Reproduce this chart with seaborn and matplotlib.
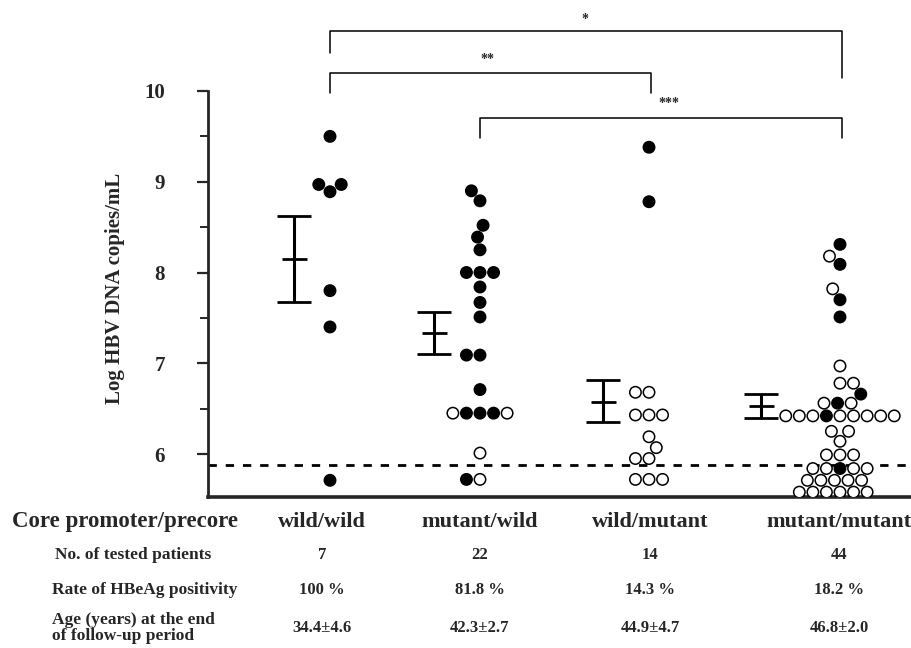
import matplotlib
matplotlib.use("Agg")
import pandas as pd
import matplotlib.pyplot as plt
import matplotlib.transforms as mtransforms
import seaborn as sns

# Gruppen (core promoter / precore)
groups = ["wild/wild", "mutant/wild", "wild/mutant", "mutant/mutant"]

# log HBV DNA, gefüllt = HBeAg positiv, offen = HBeAg negativ
ww_pos = [9.50, 8.97, 8.97, 8.89, 7.80, 7.40, 5.71]
ww_neg = []
mw_pos = [8.90, 8.79, 8.52, 8.39, 8.25, 8.00, 8.00, 8.00, 7.84, 7.67, 7.51,
          7.09, 7.09, 6.71, 6.45, 6.45, 6.45, 5.72]
mw_neg = [6.45, 6.45, 6.01, 5.72]
wm_pos = [9.38, 8.78]
wm_neg = [6.68, 6.68, 6.43, 6.43, 6.43, 6.19, 6.07, 5.95, 5.95, 5.72, 5.72, 5.72]
mm_pos = [8.31, 8.09, 7.70, 7.51, 6.66, 6.56, 6.42, 5.84]
mm_neg = [8.18, 7.82, 6.97, 6.78, 6.78, 6.56, 6.56,
          6.42, 6.42, 6.42, 6.42, 6.42, 6.42, 6.42, 6.42,
          6.25, 6.25, 6.14, 5.99, 5.99, 5.99,
          5.84, 5.84, 5.84, 5.84,
          5.71, 5.71, 5.71, 5.71, 5.71,
          5.58, 5.58, 5.58, 5.58, 5.58, 5.58]

# Mittelwert und Fehlerbalken
mean_log = [8.15, 7.33, 6.57, 6.53]
err_low = [7.67, 7.10, 6.35, 6.40]
err_high = [8.62, 7.56, 6.81, 6.66]
detect_limit = 5.88

# Tabelle unter dem Plot
n_patients = ["7", "22", "14", "44"]
hbeag_rate = ["100 %", "81.8 %", "14.3 %", "18.2 %"]
age_end = ["34.4\u00b14.6", "42.3\u00b12.7", "44.9\u00b14.7", "46.8\u00b12.0"]

# Signifikanz: (von Gruppe, bis Gruppe, Label)
sig_pairs = [(0, 3, "*"), (0, 2, "**"), (1, 3, "***")]

# Layout (x in Einheiten von 100 px)
pt_x = [1.22, 2.72, 4.41, 6.32]
err_x = [0.86, 2.26, 3.95, 5.53]
col_x = [1.14, 2.72, 4.42, 6.31]
sig_y = [10.66, 10.20, 9.70]
sig_leg = [(10.42, 10.14), (9.98, 9.98), (9.48, 9.48)]
sig_lab_xy = [(3.77, 10.79), (2.79, 10.35), (4.61, 9.86)]

rows = []
for g, pos, neg in zip(groups, [ww_pos, mw_pos, wm_pos, mm_pos],
                       [ww_neg, mw_neg, wm_neg, mm_neg]):
    for v in pos:
        rows.append((g, v, "positive"))
    for v in neg:
        rows.append((g, v, "negative"))
df = pd.DataFrame(rows, columns=["group", "logdna", "hbeag"])
df["xpos"] = df["group"].map(dict(zip(groups, pt_x)))

sns.set_style("white")
plt.rcParams["font.family"] = ["Liberation Serif", "DejaVu Serif"]
plt.rcParams["font.weight"] = "bold"

fig = plt.figure(figsize=(9.12, 6.48), dpi=100)
ax = fig.add_axes([208 / 912, 1 - 497 / 648, 1 - 208 / 912, (497 - 10) / 648])

sns.swarmplot(data=df, x="xpos", y="logdna", hue="hbeag",
              palette={"positive": "black", "negative": "white"},
              hue_order=["positive", "negative"],
              native_scale=True, orient="x", size=8.2,
              edgecolor="black", linewidth=1.1, legend=False,
              warn_thresh=1.0, ax=ax)

for x, m, lo, hi in zip(err_x, mean_log, err_low, err_high):
    ax.errorbar([x], [m], yerr=[[m - lo], [hi - m]], fmt="_", color="black",
                markersize=18, mew=2, elinewidth=2.2, capsize=12.5, capthick=2.2)

ax.axhline(detect_limit, color="black", lw=2, ls=(0, (3, 3.2)))

ylo = 10 - 406 / 90.75
ax.set_ylim(ylo, 10 + 81 / 90.75)
ax.set_xlim(0, 7.04)
ax.set_xticks([])
ax.set_xlabel("")
ax.set_ylabel("")
ax.set_yticks([6, 7, 8, 9, 10])
ax.set_yticks([6.5, 7.5, 8.5, 9.5], minor=True)
ax.tick_params(axis="y", which="major", direction="out", length=8, width=1.6,
               pad=23, labelsize=15, left=True)
ax.tick_params(axis="y", which="minor", direction="out", length=6, width=1.4,
               left=True)
for lab in ax.get_yticklabels():
    lab.set_fontweight("bold")

sns.despine(ax=ax)
ax.spines["left"].set_linewidth(2)
ax.spines["left"].set_bounds(ylo, 10)
ax.spines["bottom"].set_linewidth(2.6)

# Signifikanzklammern
for (a, b, lab), y, (la, lb), (tx, ty) in zip(sig_pairs, sig_y, sig_leg,
                                              sig_lab_xy):
    xa, xb = pt_x[a], pt_x[b] + 0.02
    ax.plot([xa, xa, xb, xb], [la, y, y, lb], color="black", lw=1.1,
            clip_on=False)
    ax.text(tx, ty, lab, ha="center", va="center", fontsize=10,
            fontweight="bold")

fig.text(115 / 912, 1 - 288 / 648, "Log HBV DNA copies/mL", rotation=90,
         ha="center", va="center", fontsize=15, fontweight="bold")

# Tabelle
trans = mtransforms.blended_transform_factory(ax.transData, fig.transFigure)
fig.text(12 / 912, 1 - 522 / 648, "Core promoter/precore", ha="left",
         va="center", fontsize=16.5, fontweight="bold")
fig.text(55 / 912, 1 - 555 / 648, "No. of tested patients", ha="left",
         va="center", fontsize=12.5, fontweight="bold")
fig.text(52 / 912, 1 - 590 / 648, "Rate of HBeAg positivity", ha="left",
         va="center", fontsize=12.5, fontweight="bold")
fig.text(52 / 912, 1 - 628 / 648, "Age (years) at the end\nof follow-up period",
         ha="left", va="center", fontsize=12.5, fontweight="bold",
         linespacing=1.0)
for x, g, n, r, a in zip(col_x, groups, n_patients, hbeag_rate, age_end):
    ax.text(x, 1 - 522 / 648, g, transform=trans, ha="center", va="center",
            fontsize=16, fontweight="bold")
    ax.text(x, 1 - 555 / 648, n, transform=trans, ha="center", va="center",
            fontsize=12, fontweight="bold")
    ax.text(x, 1 - 590 / 648, r, transform=trans, ha="center", va="center",
            fontsize=12, fontweight="bold")
    ax.text(x, 1 - 628 / 648, a, transform=trans, ha="center", va="center",
            fontsize=12, fontweight="bold")

fig.savefig("out.png", dpi=100)
